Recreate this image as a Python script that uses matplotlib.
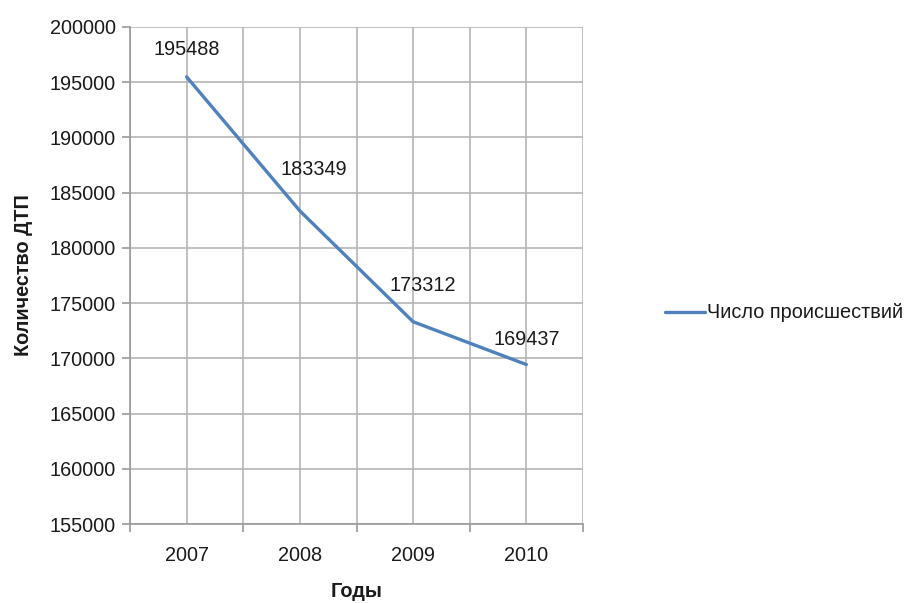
import matplotlib
matplotlib.use('Agg')

import numpy as np
import matplotlib.pyplot as plt
from matplotlib.ticker import MultipleLocator, FixedLocator

plt.rcParams['font.family'] = ['Liberation Sans', 'DejaVu Sans']

# data
years = ['2007', '2008', '2009', '2010']
accidents = [195488, 183349, 173312, 169437]
series_name = 'Число происшествий'

# label offsets (points) relative to each data point
label_offsets = [(0, 20), (10, 30), (7, 26), (0, 18)]

FS = 14.3
TXT = '#1a1a1a'

fig = plt.figure(figsize=(9.11, 6.03), dpi=100)
ax = fig.add_axes([130 / 911, 79 / 603, 453 / 911, 497 / 603])

x = np.arange(len(years))
line, = ax.plot(x, accidents, color='#4F81BD', lw=2.4, solid_capstyle='round',
                label=series_name, zorder=3)

for xi, val, (dx, dy) in zip(x, accidents, label_offsets):
    ax.annotate(str(val), (xi, val), xytext=(dx, dy), textcoords='offset points',
                ha='center', va='center', fontsize=FS, color=TXT)

ax.set_xlim(-0.5, len(years) - 0.5)
ax.set_ylim(155000, 200000)
ax.yaxis.set_major_locator(MultipleLocator(5000))

# category ticks centered, gridlines at centers and boundaries
ax.set_xticks(x)
ax.set_xticklabels(years)
ax.xaxis.set_minor_locator(FixedLocator(np.arange(-0.5, len(years), 1.0)))
ax.tick_params(axis='x', which='major', length=0, pad=16, labelsize=FS, labelcolor=TXT)
ax.tick_params(axis='x', which='minor', length=6, width=1.2, color='#999999')
ax.tick_params(axis='y', which='major', length=6, width=1.2, color='#999999',
               labelsize=FS, labelcolor=TXT, pad=4)

ax.grid(True, which='both', axis='x', color='#b5b5b5', lw=1.2)
ax.grid(True, which='major', axis='y', color='#b5b5b5', lw=1.2)
ax.set_axisbelow(True)

for side in ['top', 'right']:
    ax.spines[side].set_visible(False)
for side in ['left', 'bottom']:
    ax.spines[side].set_color('#999999')
    ax.spines[side].set_linewidth(1.2)

ax.set_ylabel('Количество ДТП', fontsize=FS, fontweight='bold', color=TXT, labelpad=12)
ax.set_xlabel('Годы', fontsize=FS, fontweight='bold', color=TXT, labelpad=12)

fig.legend(handles=[line], loc='center left', bbox_to_anchor=(647 / 911, 1 - 313 / 603),
           frameon=False, fontsize=FS, handlelength=2.0, handletextpad=0.1,
           labelcolor=TXT)

fig.savefig('out.png', dpi=100, facecolor='white')
plt.close(fig)
